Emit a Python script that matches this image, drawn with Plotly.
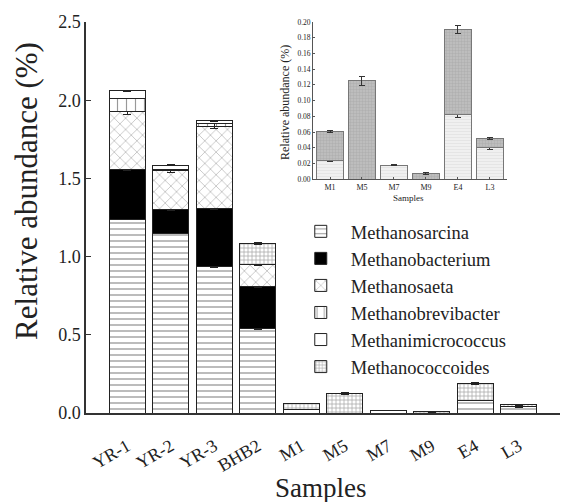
import plotly.graph_objects as go

samples = ["YR-1", "YR-2", "YR-3", "BHB2", "M1", "M5", "M7", "M9", "E4", "L3"]
genera = ["Methanosarcina", "Methanobacterium", "Methanosaeta",
          "Methanobrevibacter", "Methanimicrococcus", "Methanococcoides"]

methanosarcina = [1.24, 1.15, 0.935, 0.54, 0.024, 0.0, 0.018, 0.0, 0.082, 0.040]
methanobacterium = [0.32, 0.15, 0.375, 0.27, 0, 0, 0, 0, 0, 0]
methanosaeta = [0.37, 0.25, 0.52, 0.14, 0, 0, 0, 0, 0, 0]
methanobrevibacter = [0.08, 0.01, 0.02, 0.0, 0, 0, 0, 0, 0, 0]
methanimicrococcus = [0.05, 0.025, 0.02, 0.0, 0, 0, 0, 0, 0, 0]
methanococcoides = [0.0, 0.0, 0.0, 0.133, 0.037, 0.125, 0.0, 0.007, 0.108, 0.012]

err_sarcina = [0.005, 0.005, 0.005, 0.005, 0.002, 0.0, 0.001, 0.0, 0.004, 0.002]
err_bacterium = [0.01, 0.005, 0.01, 0.01, 0, 0, 0, 0, 0, 0]
err_saeta = [0.02, 0.01, 0.01, 0.01, 0, 0, 0, 0, 0, 0]
err_brevi = [0.0, 0.0, 0.015, 0.0, 0, 0, 0, 0, 0, 0]
err_micro = [0.003, 0.003, 0.003, 0.0, 0, 0, 0, 0, 0, 0]
err_cocc = [0.0, 0.0, 0.0, 0.004, 0.001, 0.006, 0.0, 0.001, 0.005, 0.001]

inset_samples = ["M1", "M5", "M7", "M9", "E4", "L3"]
inset_sarcina = [0.024, 0.0, 0.018, 0.0, 0.082, 0.040]
inset_cocc = [0.037, 0.125, 0.0, 0.007, 0.108, 0.012]
inset_err_sarcina = [0.001, 0.0, 0.001, 0.0, 0.003, 0.002]
inset_err_cocc = [0.001, 0.006, 0.0, 0.001, 0.005, 0.001]

FONT = "Liberation Serif"

styles = [
    dict(shape="-", fgcolor="#333", bgcolor="white", size=6, solidity=0.22),
    dict(shape="", fgcolor="black", bgcolor="black"),
    dict(shape="x", fgcolor="#555", bgcolor="white", size=8, solidity=0.15),
    dict(shape="|", fgcolor="#333", bgcolor="white", size=9, solidity=0.13),
    dict(shape="", fgcolor="white", bgcolor="white"),
    dict(shape="+", fgcolor="#555", bgcolor="white", size=4, solidity=0.35),
]
series = [methanosarcina, methanobacterium, methanosaeta,
          methanobrevibacter, methanimicrococcus, methanococcoides]
errs = [err_sarcina, err_bacterium, err_saeta, err_brevi, err_micro, err_cocc]
fills = ["white", "black", "white", "white", "white", "white"]

fig = go.Figure()
for name, vals, st, er, fc in zip(genera, series, styles, errs, fills):
    pat = dict(st)
    if pat["shape"] == "":
        marker = dict(color=fc, line=dict(color="#222", width=1))
    else:
        marker = dict(color=fc, line=dict(color="#222", width=1), pattern=pat)
    fig.add_trace(go.Bar(
        x=samples, y=vals, name=name, marker=marker, width=0.82,
        error_y=dict(type="data", array=er, visible=True, color="#222",
                     thickness=1, width=4),
        xaxis="x", yaxis="y",
    ))

# inset
fig.add_trace(go.Bar(
    x=inset_samples, y=inset_sarcina, showlegend=False, width=0.84,
    marker=dict(color="#eeeeee", line=dict(color="#777", width=1),
                pattern=dict(shape="-", fgcolor="#d8d8d8", bgcolor="#f0f0f0", size=3, solidity=0.3)),
    error_y=dict(type="data", array=inset_err_sarcina, color="#333", thickness=1, width=3),
    xaxis="x2", yaxis="y2",
))
fig.add_trace(go.Bar(
    x=inset_samples, y=inset_cocc, showlegend=False, width=0.84,
    marker=dict(color="#b4b4b4", line=dict(color="#777", width=1),
                pattern=dict(shape="+", fgcolor="#9a9a9a", bgcolor="#bdbdbd", size=3, solidity=0.3)),
    error_y=dict(type="data", array=inset_err_cocc, color="#333", thickness=1, width=3),
    xaxis="x2", yaxis="y2",
))

fig.update_layout(
    width=561, height=502,
    margin=dict(l=86, r=1, t=22, b=89),
    barmode="stack",
    paper_bgcolor="white", plot_bgcolor="white",
    font=dict(family=FONT, color="#222"),
    xaxis=dict(domain=[0, 1], range=[-0.95, 9.95], showline=True, linecolor="#333",
               linewidth=1.5, ticks="", tickangle=-30, ticklabelstandoff=14,
               tickfont=dict(size=18, family=FONT), showgrid=False),
    yaxis=dict(domain=[0, 1], range=[0, 2.5], showline=True, linecolor="#333",
               linewidth=1.5, ticks="inside", ticklen=5, tickcolor="#333",
               tickvals=[0, 0.5, 1.0, 1.5, 2.0, 2.5], tickformat=".1f",
               tickfont=dict(size=18, family=FONT), showgrid=False, zeroline=False),
    xaxis2=dict(domain=[0.479, 0.888], anchor="y2", range=[-0.53, 5.53],
                showline=True, linecolor="#555", linewidth=1, ticks="inside",
                ticklen=2, tickcolor="#555", tickfont=dict(size=8, family=FONT),
                showgrid=False),
    yaxis2=dict(domain=[0.598, 1.0], anchor="x2", range=[0, 0.2],
                showline=True, linecolor="#555", linewidth=1, ticks="inside",
                ticklen=2, tickcolor="#555", dtick=0.02, tickformat=".2f",
                tickfont=dict(size=7.5, family=FONT), showgrid=False, zeroline=False),
    legend=dict(x=0.432, y=0.512, xanchor="left", yanchor="top",
                font=dict(size=18.5, family=FONT), bgcolor="rgba(0,0,0,0)",
                traceorder="normal", itemwidth=50, tracegroupgap=0),
    bargap=0.18,
    annotations=[
        dict(text="Relative abundance (%)", xref="paper", yref="paper",
             x=-0.1245, y=0.568, textangle=-90, showarrow=False,
             font=dict(size=31, family=FONT), xanchor="center", yanchor="middle"),
        dict(text="Samples", xref="paper", yref="paper", x=0.496, y=-0.192,
             showarrow=False, font=dict(size=27, family=FONT),
             xanchor="center", yanchor="middle"),
        dict(text="Relative abundance (%)", xref="paper", yref="paper",
             x=0.42, y=0.793, textangle=-90, showarrow=False,
             font=dict(size=12, family=FONT), xanchor="center", yanchor="middle"),
        dict(text="Samples", xref="paper", yref="paper", x=0.68, y=0.55,
             showarrow=False, font=dict(size=9, family=FONT),
             xanchor="center", yanchor="middle"),
    ],
)

fig.write_html("out.html", config={"displayModeBar": False},
               post_script="document.body.style.margin='0';")
